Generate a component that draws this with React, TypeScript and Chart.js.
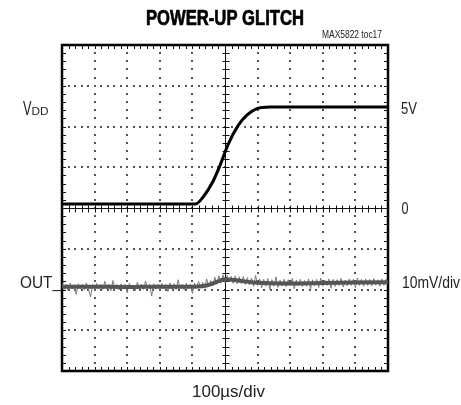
import React, { useEffect, useRef } from "react";
import { Chart, registerables } from "chart.js";

Chart.register(...registerables);

// Time axis: 10 divisions (100µs/div); vertical: 8 divisions
const X_MIN = 0;
const X_MAX = 10;
const Y_MIN = -4;
const Y_MAX = 4;
const X_GRID = [1, 2, 3, 4, 6, 7, 8, 9];
const Y_GRID = [-3, -2, -1, 1, 2, 3];
const CENTER_X = 5;
const CENTER_Y = 0;
const MINOR_STEP = 0.2;

// VDD trace (divisions)
const VDD_TIME = [0, 1, 2, 3, 4, 4.1, 4.33, 4.63, 4.85, 5.09, 5.4, 5.67, 5.98, 6.38, 7, 8, 9, 10];
const VDD_LEVEL = [0.1, 0.1, 0.1, 0.1, 0.1, 0.1, 0.27, 0.65, 1.05, 1.55, 2.02, 2.28, 2.44, 2.48, 2.48, 2.48, 2.48, 2.48];

// OUT_ trace envelope (divisions)
const OUT_TIME = [0, 1, 2, 3, 4, 4.3, 4.6, 4.85, 5.0, 5.2, 5.5, 5.8, 6.2, 7, 8, 9, 10];
const OUT_LEVEL = [-1.93, -1.93, -1.94, -1.93, -1.93, -1.92, -1.86, -1.78, -1.75, -1.76, -1.79, -1.82, -1.84, -1.85, -1.84, -1.83, -1.82];

// OUT_ noise samples (divisions), one every 1/16 division
const OUT_NOISE_STEP = 0.0625;
const OUT_NOISE = [
  -1.86, -2.00, -1.87, -2.02, -1.85, -1.99, -1.88, -2.12, -1.86, -1.98,
  -1.87, -2.01, -1.84, -1.99, -2.18, -1.88, -2.00, -1.85, -1.98, -1.87,
  -2.00, -1.80, -1.99, -1.87, -2.03, -1.78, -1.98, -1.88, -2.01, -1.86,
  -1.99, -1.87, -2.08, -1.85, -1.98, -1.89, -2.03, -1.82, -1.99, -1.87,
  -2.00, -1.79, -1.98, -1.88, -2.16, -1.86, -1.99, -1.87, -2.01, -1.85,
  -1.98, -1.88, -2.05, -1.84, -1.99, -1.86, -2.00, -1.76, -1.98, -1.87,
  -2.01, -1.85, -1.97, -1.87, -2.10, -1.84, -1.98, -1.80, -1.96, -1.82,
  -1.97, -1.74, -1.93, -1.78, -1.90, -1.70, -1.87, -1.66, -1.85, -1.64,
  -1.83, -1.66, -1.82, -1.68, -1.85, -1.67, -1.86, -1.69, -1.85, -1.68,
  -1.88, -1.71, -1.88, -1.72, -1.92, -1.65, -1.90, -1.74, -1.96, -1.75,
  -1.92, -1.73, -2.00, -1.76, -1.92, -1.69, -1.95, -1.77, -1.91, -1.75,
  -1.93, -1.76, -1.90, -1.73, -1.98, -1.77, -1.91, -1.75, -1.93, -1.78,
  -1.92, -1.74, -1.99, -1.76, -1.91, -1.75, -1.95, -1.72, -1.92, -1.77,
  -1.90, -1.74, -1.97, -1.75, -1.92, -1.76, -1.90, -1.73, -1.94, -1.77,
  -1.91, -1.74, -1.90, -1.75, -1.95, -1.72, -1.90, -1.75, -1.92, -1.74,
  -1.90, -1.75, -1.91, -1.73, -1.89, -1.76, -1.92, -1.74, -1.90, -1.75, -1.83,
];

// Text
const TITLE = "POWER-UP GLITCH";
const TAG = "MAX5822 toc17";
const CH1_NAME = "V";
const CH1_SUB = "DD";
const CH2_NAME = "OUT_";
const CH1_HIGH = "5V";
const CH1_ZERO = "0";
const CH2_SCALE = "10mV/div";
const TIME_SCALE = "100µs/div";

const NARROW = '"Liberation Sans Narrow", "Liberation Sans", Arial, sans-serif';

function drawFitted(ctx: CanvasRenderingContext2D, text: string, left: number, baseline: number, font: string, width: number, strokeW = 0) {
  ctx.save();
  ctx.font = font;
  ctx.textAlign = "left";
  ctx.textBaseline = "alphabetic";
  const w = ctx.measureText(text).width;
  ctx.translate(left, baseline);
  ctx.scale(width / w, 1);
  ctx.fillText(text, 0, 0);
  if (strokeW > 0) {
    ctx.lineWidth = strokeW;
    ctx.strokeStyle = ctx.fillStyle as string;
    ctx.lineJoin = "round";
    ctx.strokeText(text, 0, 0);
  }
  ctx.restore();
}

const scopeGrid = {
  id: "scopeGrid",
  beforeDatasetsDraw(chart: any) {
    const ctx: CanvasRenderingContext2D = chart.ctx;
    const xs = chart.scales.x;
    const ys = chart.scales.y;
    const { left, right, top, bottom } = chart.chartArea;
    ctx.save();
    ctx.fillStyle = "#555";
    const nx = Math.round((X_MAX - X_MIN) / MINOR_STEP);
    const ny = Math.round((Y_MAX - Y_MIN) / MINOR_STEP);
    for (const gx of X_GRID) {
      const px = Math.round(xs.getPixelForValue(gx));
      for (let k = 0; k <= ny; k++) {
        const py = Math.round(ys.getPixelForValue(Y_MIN + k * MINOR_STEP));
        ctx.fillRect(px - 1, py - 1, 2, 2);
      }
    }
    for (const gy of Y_GRID) {
      const py = Math.round(ys.getPixelForValue(gy));
      for (let k = 0; k <= nx; k++) {
        const px = Math.round(xs.getPixelForValue(X_MIN + k * MINOR_STEP));
        ctx.fillRect(px - 1, py - 1, 2, 2);
      }
    }
    ctx.strokeStyle = "#111";
    ctx.lineWidth = 1;
    const cx = Math.round(xs.getPixelForValue(CENTER_X)) + 0.5;
    const cy = Math.round(ys.getPixelForValue(CENTER_Y)) + 0.5;
    ctx.beginPath();
    ctx.moveTo(left, cy);
    ctx.lineTo(right, cy);
    ctx.moveTo(cx, top);
    ctx.lineTo(cx, bottom);
    for (let k = 0; k <= nx; k++) {
      const px = Math.round(xs.getPixelForValue(X_MIN + k * MINOR_STEP)) + 0.5;
      ctx.moveTo(px, cy - 3);
      ctx.lineTo(px, cy + 4);
      ctx.moveTo(px, top);
      ctx.lineTo(px, top + 4);
      ctx.moveTo(px, bottom);
      ctx.lineTo(px, bottom - 4);
    }
    for (let k = 0; k <= ny; k++) {
      const py = Math.round(ys.getPixelForValue(Y_MIN + k * MINOR_STEP)) + 0.5;
      ctx.moveTo(cx - 3, py);
      ctx.lineTo(cx + 4, py);
      ctx.moveTo(left, py);
      ctx.lineTo(left + 4, py);
      ctx.moveTo(right, py);
      ctx.lineTo(right - 4, py);
    }
    ctx.stroke();
    ctx.strokeStyle = "#000";
    ctx.lineWidth = 2.5;
    ctx.strokeRect(left, top, right - left, bottom - top);
    ctx.restore();
  },
  afterDraw(chart: any) {
    const ctx: CanvasRenderingContext2D = chart.ctx;
    ctx.save();
    ctx.fillStyle = "#000";
    drawFitted(ctx, TITLE, 146, 25, `bold 22px ${NARROW}`, 158, 0.7);
    ctx.fillStyle = "#222";
    drawFitted(ctx, TAG, 322, 38, `10.5px ${NARROW}`, 60);
    drawFitted(ctx, CH1_NAME, 23, 115, `20px ${NARROW}`, 8.5);
    drawFitted(ctx, CH1_SUB, 31.5, 115, `10px ${NARROW}`, 17);
    drawFitted(ctx, CH2_NAME, 20, 288, `17px ${NARROW}`, 41);
    drawFitted(ctx, CH1_HIGH, 401, 114, `17px ${NARROW}`, 16);
    drawFitted(ctx, CH1_ZERO, 401.5, 214, `17px ${NARROW}`, 7);
    drawFitted(ctx, CH2_SCALE, 402, 288, `17px ${NARROW}`, 58);
    drawFitted(ctx, TIME_SCALE, 192, 397, `17px ${NARROW}`, 73);
    ctx.restore();
  },
};

export default function App() {
  const ref = useRef<HTMLCanvasElement | null>(null);
  useEffect(() => {
    if (!ref.current) return;
    const vdd = VDD_TIME.map((t, i) => ({ x: t, y: VDD_LEVEL[i] }));
    const outEnv = OUT_TIME.map((t, i) => ({ x: t, y: OUT_LEVEL[i] }));
    const outNoise = OUT_NOISE.map((v, i) => ({ x: i * OUT_NOISE_STEP, y: v }));
    const chart = new Chart(ref.current, {
      type: "line",
      data: {
        datasets: [
          {
            label: "VDD",
            data: vdd,
            borderColor: "#000",
            borderWidth: 3,
            pointRadius: 0,
            cubicInterpolationMode: "monotone",
          },
          {
            label: "OUT_ envelope",
            data: outEnv,
            borderColor: "#555",
            borderWidth: 4,
            pointRadius: 0,
            cubicInterpolationMode: "monotone",
          },
          {
            label: "OUT_",
            data: outNoise,
            borderColor: "#7a7a7a",
            borderWidth: 1,
            pointRadius: 0,
            tension: 0,
          },
        ],
      },
      options: {
        animation: false,
        responsive: false,
        devicePixelRatio: 1,
        layout: { padding: { left: 62, top: 45, right: 73, bottom: 34 } },
        plugins: { legend: { display: false }, tooltip: { enabled: false }, title: { display: false } },
        scales: {
          x: { type: "linear", min: X_MIN, max: X_MAX, display: false },
          y: { type: "linear", min: Y_MIN, max: Y_MAX, display: false },
        },
      },
      plugins: [scopeGrid],
    });
    return () => chart.destroy();
  }, []);
  return (
    <div style={{ position: "fixed", left: 0, top: 0, width: 461, height: 405, background: "#fff" }}>
      <canvas ref={ref} width={461} height={405} style={{ display: "block" }} />
    </div>
  );
}
